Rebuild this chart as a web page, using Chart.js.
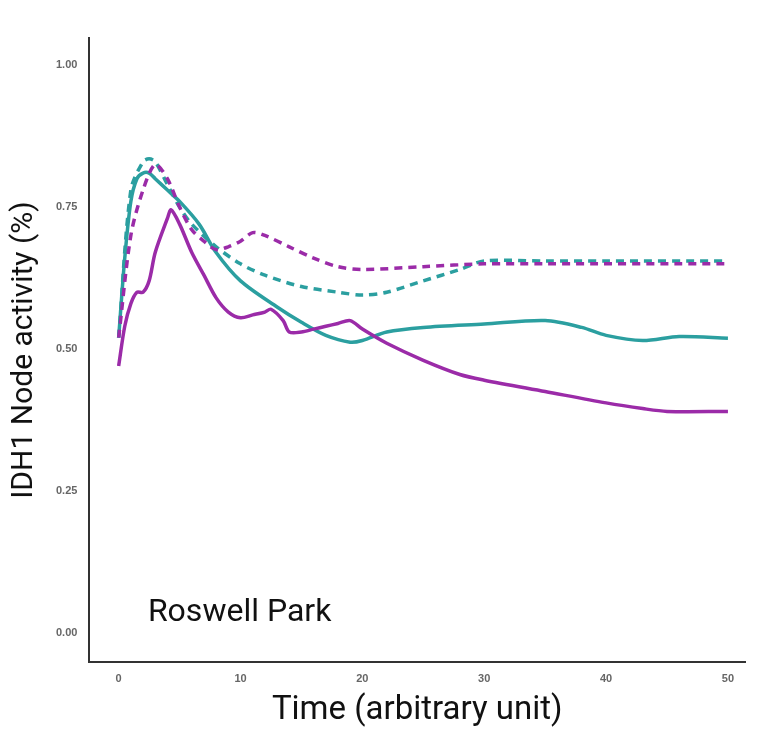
<!DOCTYPE html>
<html>
<head>
<meta charset="utf-8">
<script src="https://cdn.jsdelivr.net/npm/chart.js@4/dist/chart.umd.min.js"></script>
<style>
  html, body { margin: 0; padding: 0; background: #fff; }
  #wrap { width: 778px; height: 731px; }
</style>
</head>
<body>
<div id="wrap"><canvas id="c"></canvas></div>
<script>
// Values
const xTicks = [0, 10, 20, 30, 40, 50];
const yTicks = [0, 0.25, 0.5, 0.75, 1];

const tealSolidX = [0, 0.5, 1, 1.5, 2, 2.5, 3, 4, 5, 6.6, 8, 10, 13, 15, 17, 19, 20, 22, 25, 30, 35, 38, 40, 43, 46, 50];
const tealSolidY = [0.52, 0.66, 0.76, 0.8, 0.81, 0.81, 0.8, 0.78, 0.76, 0.72, 0.67, 0.62, 0.574, 0.547, 0.524, 0.512, 0.515, 0.53, 0.538, 0.544, 0.55, 0.538, 0.524, 0.515, 0.522, 0.519];

const purpleSolidX = [0, 0.5, 1, 1.5, 2, 2.5, 3, 4, 4.3, 5, 6, 7, 8, 9, 10, 11, 12, 12.5, 13.5, 14, 15, 16, 17, 18, 19, 20, 22, 25, 28, 30, 35, 40, 43, 45, 50];
const purpleSolidY = [0.47, 0.54, 0.58, 0.6, 0.6, 0.62, 0.67, 0.73, 0.745, 0.72, 0.67, 0.63, 0.59, 0.565, 0.555, 0.56, 0.565, 0.57, 0.55, 0.53, 0.53, 0.535, 0.54, 0.545, 0.55, 0.535, 0.51, 0.48, 0.455, 0.445, 0.425, 0.405, 0.395, 0.39, 0.39];

const tealDashX = [0, 1, 2, 2.5, 3, 4, 5, 6, 8, 10, 12, 15, 18, 20, 22, 25, 28, 30, 35, 40, 50];
const tealDashY = [0.52, 0.78, 0.83, 0.835, 0.83, 0.79, 0.75, 0.72, 0.68, 0.65, 0.63, 0.61, 0.6, 0.595, 0.6, 0.62, 0.64, 0.655, 0.655, 0.655, 0.655];

const purpleDashX = [0, 1, 2, 3, 4, 5, 6, 7, 8, 9, 10, 11, 12, 14, 16, 18, 20, 25, 30, 35, 50];
const purpleDashY = [0.52, 0.7, 0.78, 0.825, 0.8, 0.75, 0.71, 0.69, 0.675, 0.68, 0.69, 0.705, 0.7, 0.68, 0.66, 0.645, 0.64, 0.645, 0.65, 0.65, 0.65];

const TEAL = '#2b9fa0';
const PURPLE = '#9b2ba8';

function pts(xs, ys) { return xs.map((x, i) => ({ x: x, y: ys[i] })); }

// Label inside plot, placed through the scales
const labelPlugin = {
  id: 'label',
  afterDatasetsDraw(chart) {
    const { ctx, scales } = chart;
    ctx.save();
    ctx.font = '32px Roboto';
    ctx.fillStyle = '#111';
    ctx.textBaseline = 'alphabetic';
    ctx.fillText('Roswell Park', scales.x.getPixelForValue(2.4), scales.y.getPixelForValue(0.02));
    ctx.restore();
  }
};

new Chart(document.getElementById('c'), {
  type: 'line',
  data: {
    datasets: [
      { data: pts(purpleDashX, purpleDashY), borderColor: PURPLE, borderDash: [8, 6], borderWidth: 3.5 },
      { data: pts(tealDashX, tealDashY), borderColor: TEAL, borderDash: [8, 6], borderWidth: 3.5 },
      { data: pts(purpleSolidX, purpleSolidY), borderColor: PURPLE, borderWidth: 3.5 },
      { data: pts(tealSolidX, tealSolidY), borderColor: TEAL, borderWidth: 3.5 }
    ]
  },
  options: {
    responsive: true,
    maintainAspectRatio: false,
    animation: false,
    layout: { padding: { left: 2, top: 38, right: 33, bottom: 0 } },
    elements: { point: { radius: 0 }, line: { tension: 0.3, fill: false } },
    plugins: { legend: { display: false }, tooltip: { enabled: false } },
    scales: {
      x: {
        type: 'linear', min: -2.4, max: 51.4,
        afterBuildTicks: s => { s.ticks = xTicks.map(v => ({ value: v })); },
        grid: { display: false, drawTicks: true, tickLength: 6, tickColor: '#444' },
        border: { color: '#333', width: 2 },
        ticks: { color: '#666', font: { size: 11, weight: 'bold', family: 'Liberation Sans' }, padding: 4 },
        title: { display: true, text: 'Time (arbitrary unit)', color: '#111', font: { size: 33, family: 'Roboto' }, padding: { top: 2, bottom: 0 } }
      },
      y: {
        min: -0.052, max: 1.048,
        afterBuildTicks: s => { s.ticks = yTicks.map(v => ({ value: v })); },
        grid: { display: false, drawTicks: true, tickLength: 6, tickColor: '#444' },
        border: { color: '#333', width: 2 },
        ticks: { color: '#666', font: { size: 11, weight: 'bold', family: 'Liberation Sans' }, padding: 6, callback: v => v.toFixed(2) },
        title: { display: true, text: 'IDH1 Node activity (%)', color: '#111', font: { size: 30, family: 'Roboto' }, padding: { bottom: 8 } }
      }
    }
  },
  plugins: [labelPlugin]
});
</script>
</body>
</html>
